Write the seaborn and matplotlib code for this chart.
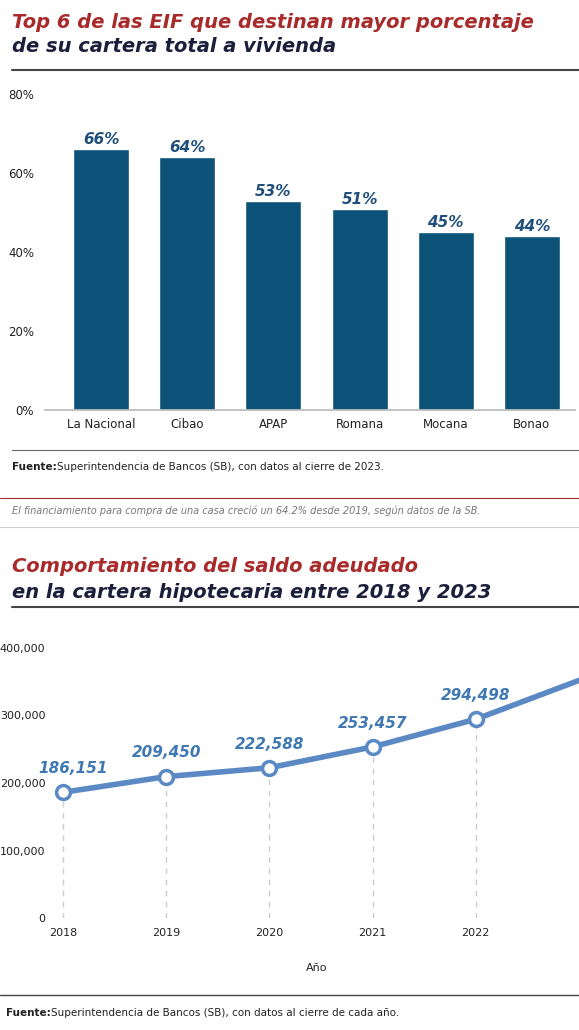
import matplotlib
matplotlib.use("Agg")
import matplotlib.pyplot as plt
import seaborn as sns
import pandas as pd

entities = ["La Nacional", "Cibao", "APAP", "Romana", "Mocana", "Bonao"]
shares = [66, 64, 53, 51, 45, 44]
share_ticks = [0, 20, 40, 60, 80]

years = [2018, 2019, 2020, 2021, 2022, 2023]
balances = [186151, 209450, 222588, 253457, 294498, 352000]
balance_ticks = [0, 100000, 200000, 300000, 400000]

sns.set_theme(style="white")
plt.rcParams['font.family'] = ['DejaVu Sans']

W, H = 579, 1030
fig = plt.figure(figsize=(W/100, H/100), dpi=100)

def fx(px): return px / W
def fy(py): return 1 - py / H

RED = "#a82a2a"
NAVY = "#1b1f3b"
BAR = "#0c5279"
LINE = "#5a89c4"

fig.text(fx(12), fy(22), "Top 6 de las EIF que destinan mayor porcentaje", color=RED,
         fontsize=14, fontweight="heavy", style="italic", va="center")
fig.text(fx(12), fy(47), "de su cartera total a vivienda", color=NAVY,
         fontsize=14, fontweight="heavy", style="italic", va="center")
fig.add_artist(plt.Line2D([fx(12), 1], [fy(70), fy(70)], color="#444444", lw=1.5))

ax1 = fig.add_axes([fx(45), fy(410), fx(530), (410-94)/H])
df1 = pd.DataFrame({"e": entities, "v": shares})
sns.barplot(data=df1, x="e", y="v", color=BAR, width=0.65, saturation=1, ax=ax1)
ax1.set_xlim(-0.65, 5.5)
ax1.set_ylim(0, 80)
ax1.set_yticks(share_ticks)
ax1.set_yticklabels([f"{t}%" for t in share_ticks], fontsize=8.5, color="#222222")
ax1.tick_params(axis="y", length=0, pad=8)
ax1.tick_params(axis="x", length=0, pad=6, labelsize=8.5, labelcolor="#222222")
ax1.set_xlabel(""); ax1.set_ylabel("")
for s in ["top", "right", "left"]:
    ax1.spines[s].set_visible(False)
ax1.spines["bottom"].set_color("#bbbbbb")
for i, v in enumerate(shares):
    ax1.text(i, v + 0.5, f"{v}%", ha="center", va="bottom", color="#1f4f7a",
             fontsize=11, fontweight="bold", style="italic")

fig.add_artist(plt.Line2D([fx(12), 1], [fy(450), fy(450)], color="#666666", lw=0.8))
fig.text(fx(12), fy(467), "Fuente:", fontsize=7.5, fontweight="bold", color="#222222", va="center")
fig.text(fx(57), fy(467), "Superintendencia de Bancos (SB), con datos al cierre de 2023.",
         fontsize=7.5, color="#222222", va="center")

fig.add_artist(plt.Line2D([0, 1], [fy(498), fy(498)], color=RED, lw=0.8))
fig.text(fx(12), fy(511), "El financiamiento para compra de una casa creció un 64.2% desde 2019, según datos de la SB.",
         fontsize=7, style="italic", color="#777777", va="center")
fig.add_artist(plt.Line2D([0, 1], [fy(527), fy(527)], color="#cccccc", lw=0.8))

fig.text(fx(12), fy(567), "Comportamiento del saldo adeudado", color=RED,
         fontsize=14, fontweight="heavy", style="italic", va="center")
fig.text(fx(12), fy(592), "en la cartera hipotecaria entre 2018 y 2023", color=NAVY,
         fontsize=14, fontweight="heavy", style="italic", va="center")
fig.add_artist(plt.Line2D([fx(12), 1], [fy(607), fy(607)], color="#444444", lw=1.5))

ax2 = fig.add_axes([fx(55), fy(918), fx(524), 270/H])
step = (579 - 63) / 5
x0 = 2018 - (63 - 55) / step
ax2.set_xlim(x0, 2023)
ax2.set_ylim(0, 400000)
df2 = pd.DataFrame({"y": years, "v": balances})
sns.lineplot(data=df2, x="y", y="v", color=LINE, lw=4, ax=ax2)
ax2.plot(years[:-1], balances[:-1], "o", ms=10, mfc="white", mec=LINE, mew=2.5, zorder=5)
for i, (yr, v) in enumerate(zip(years[:-1], balances[:-1])):
    ax2.vlines(yr, 0, v, colors="#cccccc", linestyles=(0, (4, 4)), lw=1, zorder=1)
    dx = 0.1 if i == 0 else 0
    ax2.text(yr + dx, v + 24000, f"{v:,}", ha="center", va="bottom", color="#3f78b2",
             fontsize=11, fontweight="bold", style="italic")
ax2.set_xticks(years[:-1])
ax2.set_xticklabels([str(y) for y in years[:-1]], fontsize=8, color="#222222")
ax2.set_yticks(balance_ticks)
ax2.set_yticklabels([f"{t:,}" for t in balance_ticks], fontsize=8, color="#222222")
ax2.tick_params(length=0, pad=7)
ax2.set_xlabel("Año", fontsize=8, color="#222222", labelpad=18)
ax2.set_ylabel("")
for s in ax2.spines.values():
    s.set_visible(False)

fig.add_artist(plt.Line2D([0, 1], [fy(995), fy(995)], color="#444444", lw=1))
fig.text(fx(6), fy(1013), "Fuente:", fontsize=7.5, fontweight="bold", color="#222222", va="center")
fig.text(fx(51), fy(1013), "Superintendencia de Bancos (SB), con datos al cierre de cada año.",
         fontsize=7.5, color="#222222", va="center")

fig.savefig("out.png", dpi=100)
